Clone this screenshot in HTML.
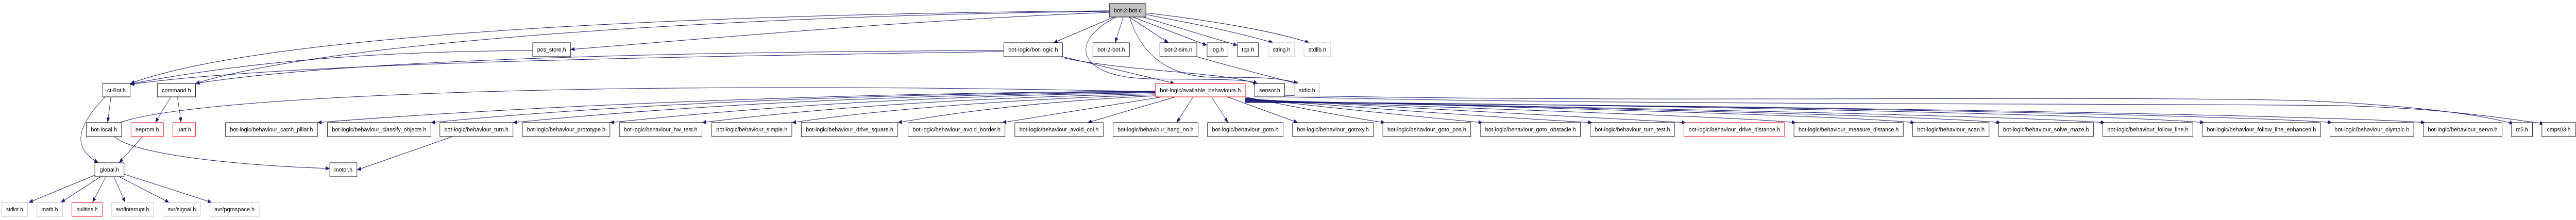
<!DOCTYPE html>
<html><head><meta charset="utf-8"><style>
html,body{margin:0;padding:0;background:#fff;width:100%;height:100%;overflow:hidden}
svg{display:block;position:absolute;left:0;top:0;width:100vw;height:100vh}
text{font-family:"Liberation Sans",sans-serif;font-size:11px;fill:#000;text-anchor:middle}
.n{fill:#fff;stroke:#000;stroke-width:1}
.g{fill:#fff;stroke:#bfbfbf;stroke-width:1}
.r{fill:#fff;stroke:#ff0000;stroke-width:1}
.e path{fill:none;stroke:#191970;stroke-width:1}
</style></head><body>
<svg viewBox="0 0 6272 427" preserveAspectRatio="none" xmlns="http://www.w3.org/2000/svg">
<defs><marker id="a" markerUnits="userSpaceOnUse" markerWidth="10" markerHeight="8" refX="10" refY="4" orient="auto"><path d="M0,0 L10,4 L0,8 z" fill="#191970"/></marker></defs>
<g class="e">
<path d="M2701,21 C2000,25 700,50 317,162" marker-end="url(#a)"/>
<path d="M2701,22 C1800,30 800,80 476,162" marker-end="url(#a)"/>
<path d="M2701,24 C2200,40 1800,70 1389,96" marker-end="url(#a)"/>
<path d="M2712,33 L2565,83" marker-end="url(#a)"/>
<path d="M2735,33 L2715,83" marker-end="url(#a)"/>
<path d="M2749,33 L2845,83" marker-end="url(#a)"/>
<path d="M2758,33 L2939,88" marker-end="url(#a)"/>
<path d="M2770,30 L3013,88" marker-end="url(#a)"/>
<path d="M2788,28 C2900,45 3000,60 3100,83" marker-end="url(#a)"/>
<path d="M2790,25 C2950,40 3100,60 3188,83" marker-end="url(#a)"/>
<path d="M2718,33 C2600,80 2620,150 2800,153 C2950,155 3030,152 3062,162" marker-end="url(#a)"/>
<path d="M2750,33 C2780,110 2850,150 2960,150 C3050,150 3120,150 3160,162" marker-end="url(#a)"/>
<path d="M2444,98 C1800,100 900,110 476,162" marker-end="url(#a)"/>
<path d="M2444,100 C1700,110 700,120 317,164" marker-end="url(#a)"/>
<path d="M2587,110 L2860,162" marker-end="url(#a)"/>
<path d="M2587,112 C2750,140 3000,140 3062,164" marker-end="url(#a)"/>
<path d="M1297,98 C900,100 600,120 317,163" marker-end="url(#a)"/>
<path d="M2914,110 C3000,130 3100,150 3165,164" marker-end="url(#a)"/>
<path d="M270,188 L262,238" marker-end="url(#a)"/>
<path d="M256,188 C180,250 180,290 240,316" marker-end="url(#a)"/>
<path d="M416,188 L378,238" marker-end="url(#a)"/>
<path d="M432,188 L441,238" marker-end="url(#a)"/>
<path d="M347,265 L290,316" marker-end="url(#a)"/>
<path d="M231,340 L70,393" marker-end="url(#a)"/>
<path d="M245,343 L148,393" marker-end="url(#a)"/>
<path d="M258,343 L225,393" marker-end="url(#a)"/>
<path d="M277,343 L305,393" marker-end="url(#a)"/>
<path d="M290,343 L412,393" marker-end="url(#a)"/>
<path d="M302,338 L516,393" marker-end="url(#a)"/>
<path d="M2813,178 C1200,150 270,200 270,252 C270,300 600,322 803,327" marker-end="url(#a)"/>
<path d="M1102,265 L869,330" marker-end="url(#a)"/>
<path d="M2813,177 C2000,180 1200,210 773,238" marker-end="url(#a)"/>
<path d="M2813,178 C2000,182 1400,210 1049,238" marker-end="url(#a)"/>
<path d="M2813,179 C2100,184 1600,210 1249,238" marker-end="url(#a)"/>
<path d="M2813,180 C2200,186 1800,212 1485,238" marker-end="url(#a)"/>
<path d="M2813,182 C2300,190 1950,214 1709,238" marker-end="url(#a)"/>
<path d="M2813,184 C2400,194 2100,218 1928,238" marker-end="url(#a)"/>
<path d="M2813,186 C2500,198 2300,222 2186,238" marker-end="url(#a)"/>
<path d="M2830,188 L2440,238" marker-end="url(#a)"/>
<path d="M2862,188 L2648,238" marker-end="url(#a)"/>
<path d="M2905,188 L2865,238" marker-end="url(#a)"/>
<path d="M2950,188 L2990,238" marker-end="url(#a)"/>
<path d="M2988,188 L3160,238" marker-end="url(#a)"/>
<path d="M3030,188 C3200,215 3300,230 3372,238" marker-end="url(#a)"/>
<path d="M3032,190 C3300,215 3500,230 3610,238" marker-end="url(#a)"/>
<path d="M3032,191 C3400,215 3700,230 3877,238" marker-end="url(#a)"/>
<path d="M3032,192 C3500,215 3900,230 4105,238" marker-end="url(#a)"/>
<path d="M3032,193 C3600,212 4200,225 4373,238" marker-end="url(#a)"/>
<path d="M3032,194 C3800,210 4500,225 4662,238" marker-end="url(#a)"/>
<path d="M3032,195 C3900,210 4700,225 4871,238" marker-end="url(#a)"/>
<path d="M3032,196 C4000,210 4900,225 5125,238" marker-end="url(#a)"/>
<path d="M3032,197 C4200,205 5200,225 5367,238" marker-end="url(#a)"/>
<path d="M3032,198 C4300,205 5500,225 5678,238" marker-end="url(#a)"/>
<path d="M3032,199 C4400,205 5700,225 5905,238" marker-end="url(#a)"/>
<path d="M3128,185 C4000,200 5000,185 5600,195 C5900,205 6050,225 6120,240" marker-end="url(#a)"/>
<path d="M3128,188 C4000,205 5200,200 5700,205 C5950,210 6100,230 6194,240" marker-end="url(#a)"/>
</g>
<rect x="2701" y="7" width="89" height="26" fill="#bfbfbf" stroke="#000"/><text x="2745.5" y="24" textLength="68" lengthAdjust="spacingAndGlyphs">bot-2-bot.c</text>
<rect class="n" x="1297" y="83" width="92" height="27"/><text x="1343" y="100" textLength="70" lengthAdjust="spacingAndGlyphs">pos_store.h</text>
<rect class="n" x="2444" y="83" width="143" height="27"/><text x="2515.5" y="100" textLength="121" lengthAdjust="spacingAndGlyphs">bot-logic/bot-logic.h</text>
<rect class="n" x="2661" y="83" width="89" height="27"/><text x="2705.5" y="100" textLength="67" lengthAdjust="spacingAndGlyphs">bot-2-bot.h</text>
<rect class="n" x="2824" y="83" width="90" height="27"/><text x="2869" y="100" textLength="68" lengthAdjust="spacingAndGlyphs">bot-2-sim.h</text>
<rect class="n" x="2939" y="83" width="51" height="27"/><text x="2964.5" y="100" textLength="30" lengthAdjust="spacingAndGlyphs">log.h</text>
<rect class="n" x="3013" y="83" width="51" height="27"/><text x="3038.5" y="100" textLength="30" lengthAdjust="spacingAndGlyphs">tcp.h</text>
<rect class="g" x="3088" y="83" width="64" height="27"/><text x="3120" y="100" textLength="42" lengthAdjust="spacingAndGlyphs">string.h</text>
<rect class="g" x="3175" y="83" width="65" height="27"/><text x="3207.5" y="100" textLength="43" lengthAdjust="spacingAndGlyphs">stdlib.h</text>
<rect class="n" x="250" y="162" width="67" height="26"/><text x="283.5" y="179" textLength="45" lengthAdjust="spacingAndGlyphs">ct-Bot.h</text>
<rect class="n" x="383" y="162" width="93" height="26"/><text x="429.5" y="179" textLength="71" lengthAdjust="spacingAndGlyphs">command.h</text>
<rect class="r" x="2813" y="162" width="219" height="26"/><text x="2922.5" y="179" textLength="197" lengthAdjust="spacingAndGlyphs">bot-logic/available_behaviours.h</text>
<rect class="n" x="3055" y="162" width="73" height="26"/><text x="3091.5" y="179" textLength="51" lengthAdjust="spacingAndGlyphs">sensor.h</text>
<rect class="g" x="3152" y="162" width="61" height="26"/><text x="3182.5" y="179" textLength="39" lengthAdjust="spacingAndGlyphs">stdio.h</text>
<rect class="n" x="210" y="238" width="86" height="27"/><text x="253" y="255" textLength="64" lengthAdjust="spacingAndGlyphs">bot-local.h</text>
<rect class="r" x="319" y="238" width="79" height="27"/><text x="358.5" y="255" textLength="57" lengthAdjust="spacingAndGlyphs">eeprom.h</text>
<rect class="r" x="421" y="238" width="55" height="27"/><text x="448.5" y="255" textLength="33" lengthAdjust="spacingAndGlyphs">uart.h</text>
<rect class="n" x="549" y="238" width="224" height="27"/><text x="661" y="255" textLength="202" lengthAdjust="spacingAndGlyphs">bot-logic/behaviour_catch_pillar.h</text>
<rect class="n" x="797" y="238" width="252" height="27"/><text x="923" y="255" textLength="230" lengthAdjust="spacingAndGlyphs">bot-logic/behaviour_classify_objects.h</text>
<rect class="n" x="1071" y="238" width="178" height="27"/><text x="1160" y="255" textLength="156" lengthAdjust="spacingAndGlyphs">bot-logic/behaviour_turn.h</text>
<rect class="n" x="1272" y="238" width="213" height="27"/><text x="1378.5" y="255" textLength="191" lengthAdjust="spacingAndGlyphs">bot-logic/behaviour_prototype.h</text>
<rect class="n" x="1508" y="238" width="201" height="27"/><text x="1608.5" y="255" textLength="179" lengthAdjust="spacingAndGlyphs">bot-logic/behaviour_hw_test.h</text>
<rect class="n" x="1733" y="238" width="195" height="27"/><text x="1830.5" y="255" textLength="173" lengthAdjust="spacingAndGlyphs">bot-logic/behaviour_simple.h</text>
<rect class="n" x="1951" y="238" width="235" height="27"/><text x="2068.5" y="255" textLength="213" lengthAdjust="spacingAndGlyphs">bot-logic/behaviour_drive_square.h</text>
<rect class="n" x="2211" y="238" width="236" height="27"/><text x="2329" y="255" textLength="214" lengthAdjust="spacingAndGlyphs">bot-logic/behaviour_avoid_border.h</text>
<rect class="n" x="2471" y="238" width="215" height="27"/><text x="2578.5" y="255" textLength="193" lengthAdjust="spacingAndGlyphs">bot-logic/behaviour_avoid_col.h</text>
<rect class="n" x="2710" y="238" width="207" height="27"/><text x="2813.5" y="255" textLength="185" lengthAdjust="spacingAndGlyphs">bot-logic/behaviour_hang_on.h</text>
<rect class="n" x="2940" y="238" width="184" height="27"/><text x="3032" y="255" textLength="162" lengthAdjust="spacingAndGlyphs">bot-logic/behaviour_goto.h</text>
<rect class="n" x="3147" y="238" width="197" height="27"/><text x="3245.5" y="255" textLength="175" lengthAdjust="spacingAndGlyphs">bot-logic/behaviour_gotoxy.h</text>
<rect class="n" x="3367" y="238" width="214" height="27"/><text x="3474" y="255" textLength="192" lengthAdjust="spacingAndGlyphs">bot-logic/behaviour_goto_pos.h</text>
<rect class="n" x="3605" y="238" width="243" height="27"/><text x="3726.5" y="255" textLength="221" lengthAdjust="spacingAndGlyphs">bot-logic/behaviour_goto_obstacle.h</text>
<rect class="n" x="3872" y="238" width="205" height="27"/><text x="3974.5" y="255" textLength="183" lengthAdjust="spacingAndGlyphs">bot-logic/behaviour_turn_test.h</text>
<rect class="r" x="4100" y="238" width="245" height="27"/><text x="4222.5" y="255" textLength="223" lengthAdjust="spacingAndGlyphs">bot-logic/behaviour_drive_distance.h</text>
<rect class="n" x="4368" y="238" width="266" height="27"/><text x="4501" y="255" textLength="244" lengthAdjust="spacingAndGlyphs">bot-logic/behaviour_measure_distance.h</text>
<rect class="n" x="4657" y="238" width="186" height="27"/><text x="4750" y="255" textLength="164" lengthAdjust="spacingAndGlyphs">bot-logic/behaviour_scan.h</text>
<rect class="n" x="4866" y="238" width="231" height="27"/><text x="4981.5" y="255" textLength="209" lengthAdjust="spacingAndGlyphs">bot-logic/behaviour_solve_maze.h</text>
<rect class="n" x="5120" y="238" width="219" height="27"/><text x="5229.5" y="255" textLength="197" lengthAdjust="spacingAndGlyphs">bot-logic/behaviour_follow_line.h</text>
<rect class="n" x="5362" y="238" width="288" height="27"/><text x="5506" y="255" textLength="266" lengthAdjust="spacingAndGlyphs">bot-logic/behaviour_follow_line_enhanced.h</text>
<rect class="n" x="5673" y="238" width="204" height="27"/><text x="5775" y="255" textLength="182" lengthAdjust="spacingAndGlyphs">bot-logic/behaviour_olympic.h</text>
<rect class="n" x="5900" y="238" width="192" height="27"/><text x="5996" y="255" textLength="170" lengthAdjust="spacingAndGlyphs">bot-logic/behaviour_servo.h</text>
<rect class="n" x="6115" y="238" width="51" height="27"/><text x="6140.5" y="255" textLength="29" lengthAdjust="spacingAndGlyphs">rc5.h</text>
<rect class="n" x="6189" y="238" width="82" height="27"/><text x="6230" y="255" textLength="58" lengthAdjust="spacingAndGlyphs">cmps03.h</text>
<rect class="n" x="231" y="316" width="71" height="27"/><text x="266.5" y="333" textLength="47" lengthAdjust="spacingAndGlyphs">global.h</text>
<rect class="n" x="803" y="316" width="66" height="27"/><text x="836" y="333" textLength="44" lengthAdjust="spacingAndGlyphs">motor.h</text>
<rect class="g" x="4" y="393" width="63" height="27"/><text x="35.5" y="410" textLength="41" lengthAdjust="spacingAndGlyphs">stdint.h</text>
<rect class="g" x="90" y="393" width="62" height="27"/><text x="121" y="410" textLength="40" lengthAdjust="spacingAndGlyphs">math.h</text>
<rect class="r" x="175" y="393" width="74" height="27"/><text x="212" y="410" textLength="52" lengthAdjust="spacingAndGlyphs">builtins.h</text>
<rect class="g" x="271" y="393" width="103" height="27"/><text x="322.5" y="410" textLength="81" lengthAdjust="spacingAndGlyphs">avr/interrupt.h</text>
<rect class="g" x="397" y="393" width="91" height="27"/><text x="442.5" y="410" textLength="69" lengthAdjust="spacingAndGlyphs">avr/signal.h</text>
<rect class="g" x="511" y="393" width="120" height="27"/><text x="571" y="410" textLength="98" lengthAdjust="spacingAndGlyphs">avr/pgmspace.h</text>
</svg>
</body></html>
